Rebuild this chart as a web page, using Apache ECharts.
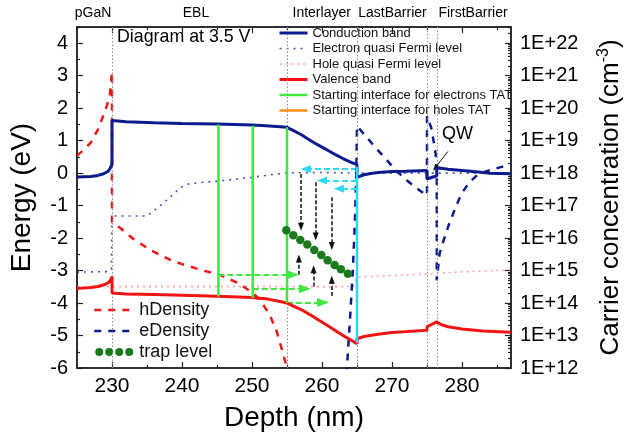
<!DOCTYPE html>
<html><head><meta charset="utf-8">
<script src="https://cdn.jsdelivr.net/npm/echarts@6/dist/echarts.min.js"></script>
<style>html,body{margin:0;padding:0;background:#fff}#c{width:624px;height:440px}</style>
</head><body><div id="c"></div><script>
const FONT = 'Liberation Sans, Arial, Helvetica, sans-serif';

// ---- data: depth (nm) and energy (eV) ----
const cbX = [225,226,227,228,228.8,229.4,229.7,230,230,232,236,240,245,250,252,254,255,256,257,258,259,260,261,262,263,264,265,265,266,267,268,270,272,275,275,276.4,276.4,277,278,280,282,284,287];
const cbE = [-0.12,-0.11,-0.10,-0.07,-0.02,0.05,0.13,0.28,1.62,1.58,1.55,1.53,1.51,1.48,1.46,1.43,1.41,1.30,1.19,1.05,0.92,0.80,0.68,0.56,0.45,0.35,0.26,-0.13,-0.05,-0.01,0.02,0.05,0.06,0.08,-0.18,-0.08,0.16,0.15,0.12,0.08,0.04,0.0,-0.02];

const vbX = [225,226,227,228,229,229.6,229.9,230,230,232,236,240,245,250,251,252,253,254,255,257,259,261,263,265,265,266,268,270,272,275,275,276.4,277,278,280,283,287];
const vbE = [-3.55,-3.54,-3.52,-3.49,-3.43,-3.35,-3.25,-3.18,-3.69,-3.72,-3.74,-3.76,-3.79,-3.83,-3.85,-3.87,-3.91,-3.95,-4.0,-4.2,-4.45,-4.72,-5.0,-5.25,-5.1,-5.03,-4.96,-4.91,-4.88,-4.84,-4.73,-4.58,-4.66,-4.73,-4.8,-4.86,-4.9];

const efX = [225,229.5,229.9,230,230,235,236,237,238,239,240,241,243,245,247,250,253,255,260,265,270,280,287];
const efE = [-3.05,-3.03,-2.96,-2.94,-1.32,-1.32,-1.15,-0.98,-0.8,-0.6,-0.42,-0.33,-0.28,-0.25,-0.2,-0.13,-0.04,0.01,0.02,0.0,0.0,0.0,0.0];

const hfX = [225,230,240,250,262,264.5,265,270,275,280,287];
const hfE = [-3.5,-3.49,-3.49,-3.49,-3.5,-3.48,-3.2,-3.15,-3.1,-3.04,-2.98];

// carrier concentration, log10(cm^-3)
const hdX = [225,226,227,228,228.8,229.3,229.7,230,230,231,233,235.5,238.4,240,243,245,248,250.3,251.2,252.5,253.5,254.1,255,255.2];
const hdLog = [18.54,18.72,18.95,19.35,19.8,20.1,20.42,21.13,16.5,16.34,15.98,15.63,15.32,15.2,15.0,14.9,14.62,14.28,14.08,13.65,13.15,12.7,12.0,11.8];

const edX = [263.5,264,264.4,264.7,264.9,265,266,267,268,269,270,271,272,273,274,275,275,275.6,276.1,276.4,276.4,276.8,277.4,278,279,279.9,281,282.3,283.5,284.7,287];
const edLog = [11.8,13.5,15.0,16.5,18.0,19.45,19.2,18.95,18.7,18.47,18.22,18.0,17.8,17.62,17.46,17.31,19.75,19.4,18.8,18.3,14.7,15.53,15.95,16.34,16.9,17.36,17.7,17.97,18.06,18.13,18.28];

// trap levels
const trapX = [254.9,255.9,256.9,257.9,258.9,259.9,260.8,261.8,262.7,263.7];
const trapE = [-1.76,-1.91,-2.06,-2.2,-2.37,-2.52,-2.68,-2.83,-2.96,-3.1];

// starting interfaces
const eTatX = [245.2,250.1,255.0];
const eTatTop = [1.50,1.46,1.41];
const eTatBottom = [-3.80,-3.84,-4.0];
const hTatX = [265];
const hTatTop = [0.2];
const hTatBottom = [-5.22];

// layer boundaries
const boundaries = [230,255,265,275,276.4];
const regions = ['pGaN','EBL','Interlayer','LastBarrier','FirstBarrier'];

// annotation arrows [x1,y1,x2,y2]
const cyanArrows = [[265,0.13,257.7,0.13],[265,-0.23,260.0,-0.23],[265,-0.48,262.4,-0.48]];
const blackArrows = [[257.0,-0.03,257.0,-1.65],[259.1,-0.28,259.1,-1.95],[261.4,-0.74,261.4,-2.24],
                     [256.7,-3.13,256.7,-2.63],[258.8,-3.49,258.8,-2.96],[261.4,-3.78,261.4,-3.28]];
const greenArrows = [[245.2,-3.13,255.85,-3.13],[250.1,-3.56,257.55,-3.56],[255.0,-3.98,260.15,-3.98]];
const qwArrow = [[278.0,0.67,276.16,0.16]];

// ticks
const xMajor = [230,240,250,260,270,280];
const xMinor = [225,235,245,255,265,275,285];
const yMajor = [-6,-5,-4,-3,-2,-1,0,1,2,3,4];
const yMinor = [-5.5,-4.5,-3.5,-2.5,-1.5,-0.5,0.5,1.5,2.5,3.5,4.5];
const logMajor = [12,13,14,15,16,17,18,19,20,21,22];
const logMinor = [];
logMajor.forEach(n => { for (let k = 2; k <= 9; k++) { const v = n + Math.log10(k); if (v < 22.5) logMinor.push(v); } });

const pairs = (xs, ys) => xs.map((x, i) => [x, ys[i]]);
const arrowData = arr => arr.map(a => [{coord:[a[0],a[1]]},{coord:[a[2],a[3]]}]);

const NAVY = '#0b1a8c', RED = '#f21414', GREEN = '#3ee83e', DKGREEN = '#1b7a1b', CYAN = '#2bd9f5', ORANGE = '#ff8c1a';
const AX = '#222';
const CLEAR = 'rgba(0,0,0,0)';

function xAx(pos, ticks, len, labels) {
  return {type:'value', min:225, max:287, position:pos,
    axisLine:{show:true, onZero:false, lineStyle:{color:AX, width:1.5}},
    axisTick:{show:true, inside:true, length:len, customValues:ticks, lineStyle:{color:AX, width:1.2}},
    axisLabel: labels ? {show:true, customValues:xMajor, fontSize:21, color:'#000', fontFamily:FONT, margin:8} : {show:false},
    splitLine:{show:false}};
}
function yAx(pos, min, max, ticks, len, labelVals, fmt) {
  return {type:'value', min:min, max:max, position:pos,
    axisLine:{show:true, onZero:false, lineStyle:{color:AX, width:1.5}},
    axisTick:{show:true, inside:true, length:len, customValues:ticks, lineStyle:{color:AX, width:1.2}},
    axisLabel: labelVals ? {show:true, customValues:labelVals, fontSize:20, color:'#000', fontFamily:FONT, margin:9, formatter:fmt} : {show:false},
    splitLine:{show:false}};
}

const xAxes = [xAx('bottom', xMajor, 6, true), xAx('bottom', xMinor, 3, false), xAx('top', xMajor, 6, false), xAx('top', xMinor, 3, false)];
xAxes[0].name = 'Depth (nm)'; xAxes[0].nameLocation = 'middle'; xAxes[0].nameGap = 36;
xAxes[0].nameTextStyle = {fontSize:28, color:'#000', fontFamily:FONT};

const yAxes = [
  yAx('left', -6, 4.5, yMajor, 6, yMajor, v => String(v)),
  yAx('right', 12, 22.5, logMajor, 6, logMajor, v => '1E+' + v),
  yAx('left', -6, 4.5, yMinor, 3, null),
  yAx('right', 12, 22.5, logMinor, 3, null)
];
yAxes[0].name = 'Energy (eV)'; yAxes[0].nameLocation = 'middle'; yAxes[0].nameGap = 41; yAxes[0].nameRotate = 90;
yAxes[0].nameTextStyle = {fontSize:28, color:'#000', fontFamily:FONT};
yAxes[1].name = 'Carrier concentration (cm{sup|-3})'; yAxes[1].nameLocation = 'middle'; yAxes[1].nameGap = 85; yAxes[1].nameRotate = 90;
yAxes[1].nameTextStyle = {fontSize:26, color:'#000', fontFamily:FONT, lineHeight:30, rich:{sup:{fontSize:16, lineHeight:16, verticalAlign:'top', fontFamily:FONT, color:'#000'}}};

const base = {type:'line', symbol:'none', xAxisIndex:0, animation:false, silent:true, itemStyle:{color:CLEAR}};

const series = [
  Object.assign({}, base, {name:'Electron quasi Fermi level', yAxisIndex:0, data:pairs(efX, efE), z:3,
    lineStyle:{color:NAVY, width:1.6, type:[2,5], opacity:0.75}}),
  Object.assign({}, base, {name:'Hole quasi Fermi level', yAxisIndex:0, data:pairs(hfX, hfE), z:3,
    lineStyle:{color:'#ff5050', width:1.4, type:[2,4], opacity:0.6}}),
  Object.assign({}, base, {name:'hDensity', yAxisIndex:1, data:pairs(hdX, hdLog), z:4,
    lineStyle:{color:RED, width:2.5, type:[7,7]}}),
  Object.assign({}, base, {name:'eDensity', yAxisIndex:1, data:pairs(edX, edLog), z:4,
    lineStyle:{color:NAVY, width:2.5, type:[7,7]}}),
  Object.assign({}, base, {name:'Conduction band', yAxisIndex:0, data:pairs(cbX, cbE), z:6,
    lineStyle:{color:NAVY, width:3}}),
  Object.assign({}, base, {name:'Valence band', yAxisIndex:0, data:pairs(vbX, vbE), z:6,
    lineStyle:{color:RED, width:3}}),
];
eTatX.forEach((x, i) => series.push(Object.assign({}, base, {name:'Starting interface for electrons TAT', yAxisIndex:0, z:7,
  data:[[x, eTatTop[i]],[x, eTatBottom[i]]], lineStyle:{color:GREEN, width:2.5}})));
series.push(Object.assign({}, base, {name:'Starting interface for holes TAT', yAxisIndex:0, z:7, data:[], lineStyle:{color:ORANGE, width:2.5}}));
hTatX.forEach((x, i) => series.push(Object.assign({}, base, {name:'hTAT', yAxisIndex:0, z:7,
  data:[[x, hTatTop[i]],[x, hTatBottom[i]]], lineStyle:{color:CYAN, width:2.5}})));
series.push({name:'trap level', type:'scatter', xAxisIndex:0, yAxisIndex:0, data:pairs(trapX, trapE), symbolSize:8.5,
  itemStyle:{color:DKGREEN, opacity:1}, z:9, silent:true, animation:false});

// boundaries
series.push(Object.assign({}, base, {name:'bounds', yAxisIndex:0, data:[], z:2,
  markLine:{silent:true, symbol:'none', animation:false, label:{show:false},
    lineStyle:{color:'#8c8c8c', width:1, type:[1.5,2]}, data:boundaries.map(b => ({xAxis:b}))}}));
function arrowSeries(name, arr, color, width, dash, size) {
  return Object.assign({}, base, {name:name, yAxisIndex:0, data:[], z:10,
    markLine:{silent:true, animation:false, symbol:['none','triangle'], symbolSize:size, label:{show:false},
      emphasis:{disabled:true}, lineStyle:{color:color, width:width, type:dash}, data:arrowData(arr)}});
}
series.push(arrowSeries('a1', cyanArrows, CYAN, 2, [6,3], [8,10]));
series.push(arrowSeries('a2', blackArrows, '#111', 1.5, [4,2], [6,8]));
series.push(arrowSeries('a3', greenArrows, GREEN, 2, [6,3], [9,12]));
series.push(arrowSeries('a4', qwArrow, '#111', 1, 'solid', [5,7]));

const regionX = [93, 196, 321.7, 392.5, 473];
const graphics = regions.map((t, i) => ({type:'text', x:regionX[i], y:13, silent:true,
  style:{text:t, fontSize:14, fontFamily:FONT, fill:'#000', align:'center', verticalAlign:'middle'}}));
graphics.push({type:'text', x:117, y:37, silent:true, style:{text:'Diagram at 3.5 V', fontSize:17.8, fontFamily:FONT, fill:'#000', align:'left', verticalAlign:'middle'}});
graphics.push({type:'text', x:442, y:134, silent:true, style:{text:'QW', fontSize:18, fontFamily:FONT, fill:'#000', align:'left', verticalAlign:'middle'}});

const trapIcon = 'path://M0,0M1,7a4,4 0 1,0 8,0a4,4 0 1,0 -8,0M11,7a4,4 0 1,0 8,0a4,4 0 1,0 -8,0M21,7a4,4 0 1,0 8,0a4,4 0 1,0 -8,0M31,7a4,4 0 1,0 8,0a4,4 0 1,0 -8,0M40,14';

const option = {
  animation:false,
  backgroundColor:'#fff',
  textStyle:{fontFamily:FONT},
  grid:{left:77, right:113, top:27, bottom:72, outerBoundsMode:'none', containLabel:false},
  xAxis:xAxes,
  yAxis:yAxes,
  legend:[
    {orient:'vertical', left:273, top:21.5, itemWidth:28, itemHeight:14, itemGap:2.5, selectedMode:false,
      lineStyle:{width:'inherit'},
      textStyle:{fontSize:13, color:'#111', fontFamily:FONT},
      data:['Conduction band','Electron quasi Fermi level','Hole quasi Fermi level','Valence band','Starting interface for electrons TAT','Starting interface for holes TAT']},
    {orient:'vertical', left:88, top:296, itemWidth:40, itemHeight:14, itemGap:3, selectedMode:false,
      lineStyle:{width:'inherit'},
      textStyle:{fontSize:18, color:'#111', fontFamily:FONT},
      data:['hDensity','eDensity',{name:'trap level', icon:trapIcon, itemStyle:{color:DKGREEN}}]}
  ],
  graphic:graphics,
  series:series
};
const chart = echarts.init(document.getElementById('c'));
chart.setOption(option);
</script></body></html>
